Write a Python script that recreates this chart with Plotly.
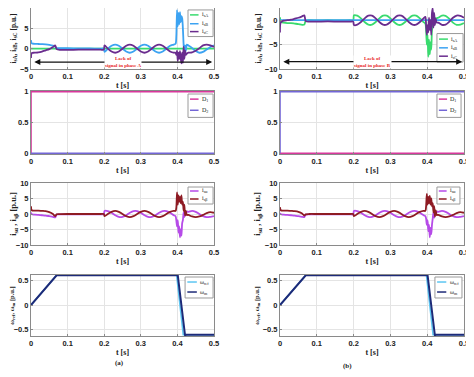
import plotly.graph_objects as go

# ---------------- data ----------------
# common time base for current waveforms [s]
t_wave = [0, 0.002, 0.01, 0.02, 0.03, 0.04, 0.05, 0.06, 0.066, 0.07, 0.08, 0.1, 0.13, 0.16, 0.19, 0.199,
          0.201, 0.21, 0.22, 0.23, 0.24, 0.25, 0.26, 0.27, 0.28, 0.29, 0.30, 0.31, 0.32, 0.33, 0.34, 0.35,
          0.36, 0.37, 0.38, 0.39, 0.395,
          0.397, 0.399, 0.401, 0.403, 0.405, 0.407, 0.409, 0.411, 0.413, 0.415, 0.417, 0.419, 0.421, 0.423, 0.426,
          0.43, 0.44, 0.45, 0.46, 0.47, 0.48, 0.49, 0.5]

# (a) lack of signal in phase A
a_isA = [0] * 60
a_isB = [2.1, 1.3, 1.2, 1.15, 1.1, 1.05, 0.95, 0.75, 0.5, 0.15, 0.1, 0.1, 0.05, 0.05, 0.0, 0.0,
         -0.8, 0.0, 0.7, 1.0, 0.7, 0.0, -0.7, -1.0, -0.7, 0.0, 0.7, 1.0, 0.7, 0.0, -0.7, -1.0,
         -0.7, 0.0, 0.7, 1.0, 1.2,
         3.0, 9.5, 5.5, 8.8, 6.0, 9.0, 6.5, 8.0, 7.5, 5.0, 1.0, -1.2, 0.8, -0.6, 1.0,
         0.8, 0.2, -0.6, -1.0, -0.8, -0.2, 0.4, 0.8]
a_isC = [-2.3, -1.1, -1.0, -0.9, -0.7, -0.4, -0.1, 0.4, 0.8, -0.1, -0.3, -0.3, -0.25, -0.25, -0.25, -0.25,
         0.8, 0.0, -0.7, -1.0, -0.7, 0.0, 0.7, 1.0, 0.7, 0.0, -0.7, -1.0, -0.7, 0.0, 0.7, 1.0,
         0.7, 0.0, -0.7, -1.0, -1.0,
         -1.5, -0.5, -3.0, -1.0, -2.5, -0.6, -2.2, -3.6, -1.0, -3.5, 0.5, -2.5, -0.5, -1.5, -1.2,
         -1.0, -0.9, -0.5, 0.1, 0.8, 1.0, 0.8, 0.4]
a_isalpha = [0.5, -0.1, -0.2, -0.3, -0.4, -0.5, -0.7, -0.9, -1.1, -0.2, -0.15, -0.1, -0.1, -0.1, -0.1, -0.1,
             1.0, 0.92, 0.38, -0.38, -0.92, -0.92, -0.38, 0.38, 0.92, 0.92, 0.38, -0.38, -0.92, -0.92, -0.38, 0.38,
             0.92, 0.92, 0.38, -0.38, -0.7,
             -2.0, -4.0, -2.0, -6.0, -4.0, -7.5, -5.0, -7.0, -3.0, -2.0, 0.5, -1.0, 1.0, 0.3, 0.8,
             0.7, 1.0, 0.7, 0.0, -0.7, -1.0, -0.9, -0.7]
a_isbeta = [2.5, 1.2, 1.1, 1.1, 1.0, 0.9, 0.6, 0.0, -0.7, -0.1, -0.05, 0.0, 0.0, 0.0, 0.0, 0.0,
            -0.7, 0.0, 0.7, 1.0, 0.7, 0.0, -0.7, -1.0, -0.7, 0.0, 0.7, 1.0, 0.7, 0.0, -0.7, -1.0,
            -0.7, 0.0, 0.7, 1.0, 1.0,
            2.0, 7.0, 3.0, 6.0, 4.0, 5.5, 3.5, 6.0, 3.0, 4.0, 1.0, 3.0, -0.5, 1.0, -0.3,
            -0.3, -0.8, -1.0, -0.8, -0.3, 0.3, 0.6, 0.4]

# (b) lack of signal in phase B
b_isA = [0.6, -0.3, -0.5, -0.6, -0.6, -0.7, -0.8, -0.95, -0.9, -0.1, 0.0, -0.05, 0.0, -0.05, 0.0, 0.0,
         1.0, 0.92, 0.38, -0.38, -0.92, -0.92, -0.38, 0.38, 0.92, 0.92, 0.38, -0.38, -0.92, -0.92, -0.38, 0.38,
         0.92, 0.92, 0.38, -0.38, -0.7,
         -2.0, -5.0, -3.0, -7.5, -4.0, -7.0, -4.5, -6.0, -2.0, -1.0, 0.5, -1.0, 0.5, -0.3, 0.4,
         0.5, 0.95, 0.9, 0.3, -0.5, -0.95, -0.9, -0.6]
b_isB = [0] * 60
b_isC = [-2.5, -0.5, -0.1, 0.0, 0.1, 0.3, 0.5, 0.8, 1.0, -0.2, -0.3, -0.3, -0.25, -0.3, -0.3, -0.3,
         -1.0, -0.92, -0.38, 0.38, 0.92, 0.92, 0.38, -0.38, -0.92, -0.92, -0.38, 0.38, 0.92, 0.92, 0.38, -0.38,
         -0.92, -0.92, -0.38, 0.38, 0.7,
         -1.0, -3.0, -1.0, -2.5, 0.5, -2.0, 0.0, -3.0, 1.5, 2.5, -1.5, 1.5, -1.0, 0.3, -0.5,
         -0.5, -0.95, -0.9, -0.3, 0.5, 0.95, 0.9, 0.5]
b_isalpha = [0.3, -0.1, -0.2, -0.3, -0.4, -0.5, -0.7, -0.9, -1.0, -0.2, -0.1, -0.1, -0.1, -0.1, -0.1, -0.1,
             1.0, 0.92, 0.38, -0.38, -0.92, -0.92, -0.38, 0.38, 0.92, 0.92, 0.38, -0.38, -0.92, -0.92, -0.38, 0.38,
             0.92, 0.92, 0.38, -0.38, -0.7,
             -1.5, -3.5, -2.0, -5.5, -3.5, -7.5, -4.5, -6.5, -3.5, -1.5, 0.5, -1.2, 0.8, 0.0, 0.8,
             0.7, 1.0, 0.7, 0.0, -0.7, -1.0, -0.9, -0.7]
b_isbeta = [2.2, 1.2, 1.1, 1.1, 1.0, 0.9, 0.7, 0.2, -0.5, -0.1, 0.0, 0.0, 0.0, 0.0, 0.0, 0.0,
            -0.7, 0.0, 0.7, 1.0, 0.7, 0.0, -0.7, -1.0, -0.7, 0.0, 0.7, 1.0, 0.7, 0.0, -0.7, -1.0,
            -0.7, 0.0, 0.7, 1.0, 1.0,
            2.5, 6.5, 3.0, 5.5, 3.5, 5.8, 3.0, 5.0, 2.5, 3.5, 0.5, 2.5, -0.8, 1.2, -0.3,
            -0.3, -0.8, -1.0, -0.8, -0.3, 0.3, 0.6, 0.4]

# diagnostic signals D1, D2
t_D = [0, 0, 0.5]
a_D1 = [0, 1, 1]
a_D2 = [0, 0, 0]
b_D1 = [0, 0, 0]
b_D2 = [0, 1, 1]

# speed reference and measured speed
t_ref = [0, 0.07, 0.398, 0.416, 0.5]
w_ref = [0, 0.6, 0.6, -0.6, -0.6]
t_m = [0, 0.07, 0.401, 0.421, 0.424, 0.43, 0.5]
w_m = [0, 0.6, 0.6, -0.62, -0.595, -0.6, -0.6]

x_ticks = [0, 0.1, 0.2, 0.3, 0.4, 0.5]
x_tick_labels = ["0", "0.1", "0.2", "0.3", "0.4", "0.5"]

# ---------------- colours ----------------
C_A = "#39DB6E"
C_B = "#3CA3F2"
C_C = "#6A2C8E"
C_D1 = "#D8389C"
C_D2 = "#7366D6"
C_AL = "#B64BE8"
C_BE = "#8E1B23"
C_REF = "#5CC6F2"
C_M = "#1D2A78"

# the page body has an 8 px margin, so the figure is drawn 8 px smaller and offset
OFF = 8
W, H = 474 - OFF, 377 - OFF
fig = go.Figure()


def fx(px):
    return (px - OFF) / W


def fy(py):
    return min(1.0, 1 - (py - OFF) / H)


# x domains (left/right columns) and y domains (rows), in figure fractions
XD = {1: [fx(31), fx(214)], 2: [fx(280), fx(464)]}
YD = {1: [fy(69), fy(8)], 2: [fy(154), fy(91)],
      3: [fy(245), fy(183)], 4: [fy(336), fy(275)]}


def ax_id(row, col):
    return (row - 1) * 2 + col


def add(row, col, x, y, color, width=1.8, shape="spline"):
    n = ax_id(row, col)
    fig.add_trace(go.Scatter(x=x, y=y, mode="lines", showlegend=False,
                             line=dict(color=color, width=width, shape=shape, smoothing=0.8),
                             xaxis="x" if n == 1 else f"x{n}", yaxis="y" if n == 1 else f"y{n}"))


# row 1
add(1, 1, t_wave, a_isA, C_A)
add(1, 1, t_wave, a_isB, C_B)
add(1, 1, t_wave, a_isC, C_C)
add(1, 2, t_wave, b_isA, C_A)
add(1, 2, t_wave, b_isB, C_B)
add(1, 2, t_wave, b_isC, C_C)
# row 2
add(2, 1, t_D, a_D1, C_D1, 1.6, "linear")
add(2, 1, t_D, a_D2, C_D2, 1.6, "linear")
add(2, 2, t_D, b_D1, C_D1, 1.6, "linear")
add(2, 2, t_D, b_D2, C_D2, 1.6, "linear")
# row 3
add(3, 1, t_wave, a_isalpha, C_AL)
add(3, 1, t_wave, a_isbeta, C_BE)
add(3, 2, t_wave, b_isalpha, C_AL)
add(3, 2, t_wave, b_isbeta, C_BE)
# row 4
for c in (1, 2):
    add(4, c, t_ref, w_ref, C_REF, 1.6, "linear")
    add(4, c, t_m, w_m, C_M, 2.0, "linear")

tickfont = dict(family="Liberation Sans", size=7.5, color="#222", weight="bold")
serif = "Liberation Serif"

yranges = {(1, 1): [-5, 10], (1, 2): [-10, 2.5], (2, 1): [-0.012, 1.012], (2, 2): [-0.012, 1.012],
           (3, 1): [-10, 10], (3, 2): [-10, 10], (4, 1): [-0.625, 0.605], (4, 2): [-0.625, 0.605]}
yticks = {(1, 1): [-5, 0, 5, 10], (1, 2): [-10, -5, 0], (2, 1): [0, 0.5, 1], (2, 2): [0, 0.5, 1],
          (3, 1): [-10, -5, 0, 5, 10], (3, 2): [-10, -5, 0, 5, 10], (4, 1): [-0.5, 0, 0.5], (4, 2): [-0.5, 0, 0.5]}
ytitles = {1: ("i<sub>sA</sub>, i<sub>sB</sub>, i<sub>sC</sub> [p.u.]", 7.5),
           2: ("", 7),
           3: ("i<sub>sα</sub> , i<sub>sβ</sub> [p.u.]", 8.5),
           4: ("ω<sub>ref</sub>, ω<sub>m</sub> [p.u.]", 6.5)}

axis_common = dict(showline=True, linecolor="#8a8a8a", linewidth=1, mirror=True, showgrid=True,
                   gridcolor="#e4e4e4", gridwidth=1, zeroline=False, ticks="inside", ticklen=2,
                   tickcolor="#8a8a8a", tickfont=tickfont, automargin=False)

for r in range(1, 5):
    for c in (1, 2):
        n = ax_id(r, c)
        xs = "xaxis" if n == 1 else f"xaxis{n}"
        ys = "yaxis" if n == 1 else f"yaxis{n}"
        fig.layout[xs] = dict(domain=XD[c], anchor="y" if n == 1 else f"y{n}", range=[0, 0.5],
                              tickvals=x_ticks, ticktext=x_tick_labels,
                              title=dict(text="t [s]", standoff=2,
                                         font=dict(family=serif, size=8, color="#222", weight="bold")),
                              **axis_common)
        ytxt, ysz = ytitles[r]
        fig.layout[ys] = dict(domain=YD[r], anchor="x" if n == 1 else f"x{n}", range=yranges[(r, c)],
                              tickvals=yticks[(r, c)],
                              title=dict(text=ytxt, standoff=2,
                                         font=dict(family=serif, size=ysz, color="#222", weight="bold")),
                              **axis_common)


# ---------------- manual legends ----------------
def add_legend(n, x0, x1, y0, y1, items):
    xr = "x domain" if n == 1 else f"x{n} domain"
    yr = "y domain" if n == 1 else f"y{n} domain"
    fig.add_shape(type="rect", xref=xr, yref=yr, x0=x0, x1=x1, y0=y0, y1=y1,
                  line=dict(color="#9a9a9a", width=1), fillcolor="white", layer="above")
    w = x1 - x0
    for text, color, yy in items:
        fig.add_shape(type="line", xref=xr, yref=yr, x0=x0 + 0.08 * w, x1=x0 + 0.42 * w, y0=yy, y1=yy,
                      line=dict(color=color, width=1.5), layer="above")
        fig.add_annotation(xref=xr, yref=yr, x=x0 + 0.47 * w, y=yy, text=text, showarrow=False,
                           xanchor="left", yanchor="middle",
                           font=dict(family=serif, size=6, color="#222"))


add_legend(1, 0.858, 0.995, 0.532, 0.968,
           [("i<sub>sA</sub>", C_A, 0.887), ("i<sub>sB</sub>", C_B, 0.742), ("i<sub>sC</sub>", C_C, 0.613)])
add_legend(2, 0.853, 0.995, 0.113, 0.581,
           [("i<sub>sA</sub>", C_A, 0.49), ("i<sub>sB</sub>", C_B, 0.347), ("i<sub>sC</sub>", C_C, 0.21)])
add_legend(3, 0.858, 0.995, 0.581, 0.952,
           [("D<sub>1</sub>", C_D1, 0.871), ("D<sub>2</sub>", C_D2, 0.694)])
add_legend(4, 0.853, 0.984, 0.581, 0.952,
           [("D<sub>1</sub>", C_D1, 0.871), ("D<sub>2</sub>", C_D2, 0.694)])
add_legend(5, 0.858, 0.995, 0.661, 0.935,
           [("i<sub>sα</sub>", C_AL, 0.871), ("i<sub>sβ</sub>", C_BE, 0.742)])
add_legend(6, 0.853, 0.978, 0.661, 0.935,
           [("i<sub>sα</sub>", C_AL, 0.871), ("i<sub>sβ</sub>", C_BE, 0.742)])
add_legend(7, 0.842, 0.995, 0.623, 0.967,
           [("ω<sub>ref</sub>", C_REF, 0.885), ("ω<sub>m</sub>", C_M, 0.721)])
add_legend(8, 0.842, 0.989, 0.623, 0.967,
           [("ω<sub>ref</sub>", C_REF, 0.885), ("ω<sub>m</sub>", C_M, 0.721)])

# ---------------- arrows "Lack of signal" ----------------
for n, yv, ph in ((1, -3.3, "A"), (2, -8.5, "B")):
    xr = "x" if n == 1 else f"x{n}"
    yr = "y" if n == 1 else f"y{n}"
    fig.add_annotation(xref=xr, yref=yr, x=0.495, y=yv, ax=0.005, ay=yv, axref=xr, ayref=yr,
                       text="", showarrow=True, arrowhead=2, arrowside="end+start",
                       arrowsize=1, arrowwidth=1.2, arrowcolor="#111")
    fig.add_annotation(xref=xr, yref=yr, x=0.25, y=yv, text=f"Lack of<br>signal in phase {ph}",
                       showarrow=False, bgcolor="white", borderpad=0,
                       font=dict(family=serif, size=5, color="#E8262A", weight="bold"))

# ---------------- panel labels ----------------
fig.add_annotation(xref="paper", yref="paper", x=fx(113), y=fy(369), text="(a)", showarrow=False,
                   font=dict(family=serif, size=7, color="#222", weight="bold"))
fig.add_annotation(xref="paper", yref="paper", x=fx(354), y=fy(372), text="(b)", showarrow=False,
                   font=dict(family=serif, size=7, color="#222", weight="bold"))

fig.update_layout(width=W, height=H, margin=dict(l=0, r=0, t=0, b=0, autoexpand=False),
                  paper_bgcolor="white", plot_bgcolor="white", showlegend=False)

fig.write_html("out.html")
